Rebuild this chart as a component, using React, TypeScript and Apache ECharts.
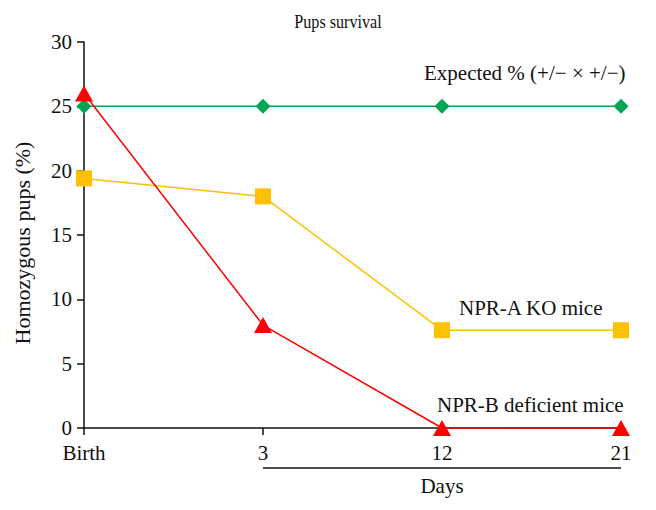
import React, { useEffect, useRef } from "react";
import * as echarts from "echarts";

const categories = ["Birth", "3", "12", "21"];
const expected = [25, 25, 25, 25];
const npraKO = [19.4, 18, 7.6, 7.6];
const nprbDef = [26, 8, 0, 0];
const yTicks = { min: 0, max: 30, interval: 5 };

const FONT = "Liberation Serif";
const INK = "#111";

export default function App() {
  const ref = useRef<HTMLDivElement>(null);
  useEffect(() => {
    const chart = echarts.init(ref.current!, undefined, { renderer: "svg" });
    chart.setOption({
      animation: false,
      backgroundColor: "#fff",
      textStyle: { fontFamily: FONT },
      grid: { left: 84, right: 35, top: 42, bottom: 82 },
      xAxis: {
        type: "category",
        data: categories,
        boundaryGap: false,
        axisLine: { lineStyle: { color: INK, width: 1.5 } },
        axisTick: { show: true, length: 7, lineStyle: { color: INK, width: 1.5 } },
        axisLabel: { fontFamily: FONT, fontSize: 21, color: INK, margin: 14 },
        splitLine: { show: false },
      },
      yAxis: {
        type: "value",
        min: yTicks.min,
        max: yTicks.max,
        interval: yTicks.interval,
        axisLine: { show: true, lineStyle: { color: INK, width: 1.5 } },
        axisTick: { show: true, length: 7, lineStyle: { color: INK, width: 1.5 } },
        axisLabel: { fontFamily: FONT, fontSize: 21, color: INK, margin: 12 },
        splitLine: { show: false },
      },
      series: [
        {
          name: "Expected % (+/− × +/−)",
          type: "line",
          data: expected,
          symbol: "diamond",
          symbolSize: 15,
          itemStyle: { color: "#00a651" },
          lineStyle: { color: "#00a651", width: 1.5 },
          z: 3,
        },
        {
          name: "NPR-A KO mice",
          type: "line",
          data: npraKO,
          symbol: "rect",
          symbolSize: 16,
          itemStyle: { color: "#ffc000" },
          lineStyle: { color: "#ffc000", width: 1.5 },
          z: 4,
        },
        {
          name: "NPR-B deficient mice",
          type: "line",
          data: nprbDef,
          symbol: "triangle",
          symbolSize: [18, 16],
          itemStyle: { color: "#ff0000" },
          lineStyle: { color: "#ff0000", width: 1.5 },
          z: 5,
        },
      ],
      graphic: [
        {
          type: "text",
          x: 338,
          y: 22,
          scaleX: 0.85,
          style: { text: "Pups survival", fontFamily: FONT, fontSize: 19, fill: INK, textAlign: "center", textVerticalAlign: "middle" },
        },
        {
          type: "text",
          x: 22,
          y: 243,
          rotation: Math.PI / 2,
          style: { text: "Homozygous pups (%)", fontFamily: FONT, fontSize: 22, fill: INK, textAlign: "center", textVerticalAlign: "middle" },
        },
        {
          type: "text",
          x: 424,
          y: 73,
          style: { text: "Expected % (+/− × +/−)", fontFamily: FONT, fontSize: 21, fill: INK, textVerticalAlign: "middle" },
        },
        {
          type: "text",
          x: 459,
          y: 308,
          style: { text: "NPR-A KO mice", fontFamily: FONT, fontSize: 21, fill: INK, textVerticalAlign: "middle" },
        },
        {
          type: "text",
          x: 437,
          y: 405,
          style: { text: "NPR-B deficient mice", fontFamily: FONT, fontSize: 21, fill: INK, textVerticalAlign: "middle" },
        },
        {
          type: "line",
          shape: { x1: 263, y1: 468, x2: 621, y2: 468 },
          style: { stroke: INK, lineWidth: 1.5 },
        },
        {
          type: "text",
          x: 442,
          y: 486,
          style: { text: "Days", fontFamily: FONT, fontSize: 21, fill: INK, textAlign: "center", textVerticalAlign: "middle" },
        },
      ],
    });
    return () => chart.dispose();
  }, []);
  return (
    <div
      ref={ref}
      style={{ position: "absolute", left: 0, top: 0, width: 656, height: 510 }}
    />
  );
}
